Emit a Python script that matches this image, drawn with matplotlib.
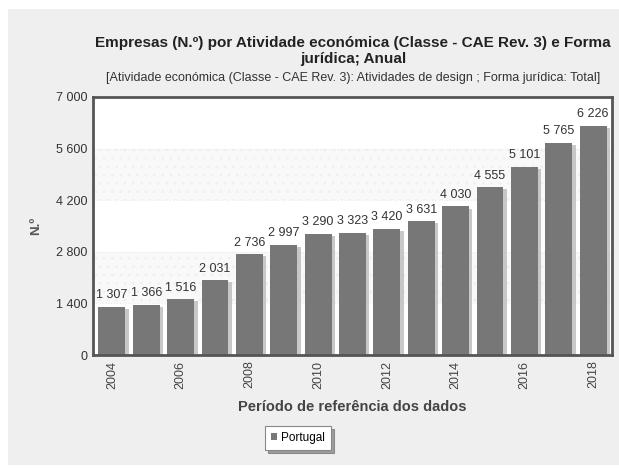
import matplotlib
matplotlib.use("Agg")
import matplotlib.pyplot as plt
import matplotlib.patheffects as pe
from matplotlib.patches import Rectangle
import numpy as np

plt.rcParams['font.family'] = ['Liberation Sans', 'DejaVu Sans']
plt.rcParams['hatch.linewidth'] = 0.6

# dados
anos = [2004, 2005, 2006, 2007, 2008, 2009, 2010, 2011, 2012, 2013, 2014, 2015, 2016, 2017, 2018]
empresas = [1307, 1366, 1516, 2031, 2736, 2997, 3290, 3323, 3420, 3631, 4030, 4555, 5101, 5765, 6226]
y_ticks = [0, 1400, 2800, 4200, 5600, 7000]
serie = 'Portugal'

titulo = 'Empresas (N.º) por Atividade económica (Classe - CAE Rev. 3) e Forma\njurídica; Anual'
subtitulo = '[Atividade económica (Classe - CAE Rev. 3): Atividades de design ; Forma jurídica: Total]'


def fmt(v):
    return f'{v:,}'.replace(',', ' ')


W, H = 619, 468
fig = plt.figure(figsize=(W / 100, H / 100), dpi=100)
fig.patch.set_facecolor('white')

# painel cinzento de fundo
fig.patches.append(Rectangle((8 / W, 3 / H), 1 - 8 / W, 1 - 12 / H, transform=fig.transFigure,
                             facecolor='#efefef', edgecolor='none', zorder=-10))

ax = fig.add_axes([93 / W, 1 - 355 / H, (612 - 93) / W, (355 - 97) / H])
ax.set_facecolor('white')

x = np.arange(len(anos))
ax.set_xlim(-0.55, len(anos) - 0.45)
ax.set_ylim(0, 7000)

# faixas alternadas
for i in range(len(y_ticks) - 1):
    if i % 2 == 1:
        ax.axhspan(y_ticks[i], y_ticks[i + 1], facecolor='#f9f9f9', edgecolor='#efefef',
                   hatch='..', linewidth=0, zorder=0)
for t in y_ticks[1:-1]:
    ax.axhline(t, color='#e8e8e8', linewidth=0.8, linestyle=':', zorder=0.5)

bars = ax.bar(x, empresas, width=0.78, color='#777777', zorder=2)
for b in bars:
    b.set_path_effects([pe.SimplePatchShadow(offset=(2.5, -1.5), shadow_rgbFace='#bbbbbb', alpha=0.8),
                        pe.Normal()])

for xi, v in zip(x, empresas):
    ax.annotate(fmt(v), (xi, v), xytext=(0, 4), textcoords='offset points',
                ha='center', va='bottom', fontsize=9, color='#333333', zorder=3)

ax.set_yticks(y_ticks)
ax.set_yticklabels([fmt(t) for t in y_ticks], fontsize=9, color='#333333')
ax.set_xticks(x[::2])
ax.set_xticklabels([str(a) for a in anos[::2]], rotation=90, fontsize=9, color='#444444')
ax.tick_params(axis='both', length=0, pad=4)

for s in ax.spines.values():
    s.set_color('#555555')
    s.set_linewidth(2)

ax.set_xlabel('Período de referência dos dados', fontsize=10.5, fontweight='bold',
              color='#444444', labelpad=8)
ax.set_ylabel('N.º', fontsize=9.5, fontweight='bold', color='#555555', labelpad=10)

fig.text(353 / W, 1 - 51 / H, titulo, ha='center', va='center', fontsize=11, fontweight='bold',
         color='#222222', linespacing=1.1)
fig.text(353 / W, 1 - 78 / H, subtitulo, ha='center', va='center', fontsize=9, color='#333333')

leg = fig.legend([Rectangle((0, 0), 1, 1, facecolor='#777777')], [serie],
                 loc='center', bbox_to_anchor=(298 / W, 1 - 438 / H), fontsize=8.5,
                 handlelength=0.5, handleheight=0.5, handletextpad=0.4,
                 frameon=True, fancybox=False, shadow=True, borderpad=0.5)
leg.get_frame().set_edgecolor('#888888')
leg.get_frame().set_linewidth(0.8)

fig.savefig('out.png', dpi=100)
